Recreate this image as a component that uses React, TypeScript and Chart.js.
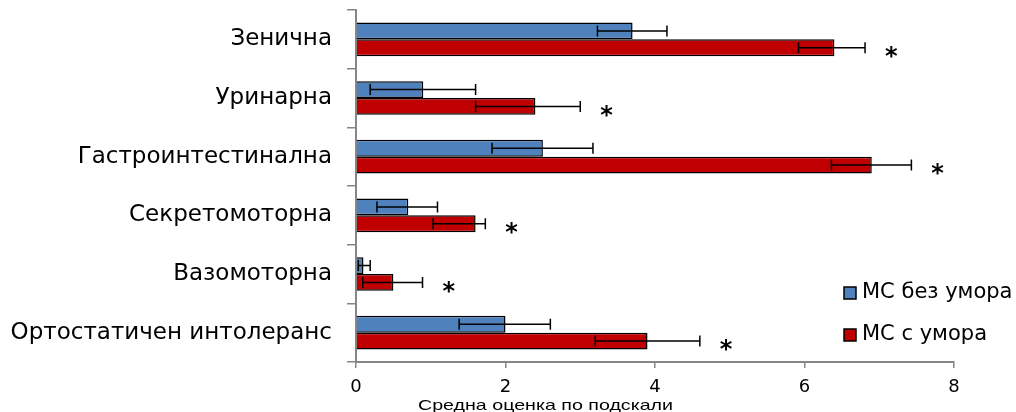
import React, { useEffect, useRef } from "react";
import { Chart, registerables } from "chart.js";

Chart.register(...registerables);

// Subscales of the autonomic symptom questionnaire
const categories = [
  "Зенична",
  "Уринарна",
  "Гастроинтестинална",
  "Секретомоторна",
  "Вазомоторна",
  "Ортостатичен интолеранс",
];

const seriesLabels = ["МС без умора", "МС с умора"];

// Mean subscale scores
const noFatigueMeans = [3.7, 0.9, 2.5, 0.7, 0.1, 2.0];
const fatigueMeans = [6.4, 2.4, 6.9, 1.6, 0.5, 3.9];

// Error bar extents below / above the mean
const noFatigueErrLow = [0.47, 0.71, 0.68, 0.42, 0.07, 0.62];
const noFatigueErrHigh = [0.46, 0.7, 0.67, 0.39, 0.09, 0.6];
const fatigueErrLow = [0.48, 0.8, 0.54, 0.57, 0.41, 0.7];
const fatigueErrHigh = [0.41, 0.6, 0.53, 0.13, 0.39, 0.7];

// Significant difference between groups (marked with *)
const significant = [true, true, true, true, true, true];

const xTicks = [0, 2, 4, 6, 8];
const xTitle = "Средна оценка по подскали";

const BLUE = "#4F81BD";
const RED = "#C00000";

const errorBarsPlugin = {
  id: "errorBars",
  afterDatasetsDraw(chart: any) {
    const ctx = chart.ctx;
    const xs = chart.scales.x;
    const lows = [noFatigueErrLow, fatigueErrLow];
    const highs = [noFatigueErrHigh, fatigueErrHigh];
    ctx.save();
    ctx.strokeStyle = "#000";
    ctx.lineWidth = 1.5;
    chart.data.datasets.forEach((ds: any, di: number) => {
      const meta = chart.getDatasetMeta(di);
      meta.data.forEach((bar: any, i: number) => {
        const v = ds.data[i];
        const x1 = xs.getPixelForValue(v - lows[di][i]);
        const x2 = xs.getPixelForValue(v + highs[di][i]);
        const y = bar.y;
        ctx.beginPath();
        ctx.moveTo(x1, y);
        ctx.lineTo(x2, y);
        ctx.moveTo(x1, y - 5.5);
        ctx.lineTo(x1, y + 5.5);
        ctx.moveTo(x2, y - 5.5);
        ctx.lineTo(x2, y + 5.5);
        ctx.stroke();
      });
    });
    // significance stars, placed just past the fatigue-group error bar
    const meta = chart.getDatasetMeta(1);
    ctx.fillStyle = "#000";
    ctx.font = "bold 24px 'DejaVu Sans'";
    ctx.textAlign = "center";
    ctx.textBaseline = "middle";
    meta.data.forEach((bar: any, i: number) => {
      if (!significant[i]) return;
      const x = xs.getPixelForValue(fatigueMeans[i] + fatigueErrHigh[i] + 0.35);
      ctx.fillText("*", x, bar.y + 10);
    });
    ctx.restore();
  },
};

const legendTitlePlugin = {
  id: "legendTitle",
  afterDraw(chart: any) {
    const ctx = chart.ctx;
    ctx.save();
    // legend
    const colors = [BLUE, RED];
    ctx.font = "21px 'DejaVu Sans'";
    ctx.textAlign = "left";
    ctx.textBaseline = "middle";
    seriesLabels.forEach((lbl, i) => {
      const cy = 293 + i * 42;
      ctx.fillStyle = colors[i];
      ctx.fillRect(844, cy - 6, 12, 12);
      ctx.strokeStyle = "#000";
      ctx.lineWidth = 1.5;
      ctx.strokeRect(844, cy - 6, 12, 12);
      ctx.fillStyle = "#000";
      ctx.fillText(lbl, 862, cy);
    });
    // x axis title, slightly widened
    ctx.font = "15px 'Liberation Sans'";
    ctx.textAlign = "left";
    ctx.textBaseline = "alphabetic";
    ctx.fillStyle = "#000";
    const w = ctx.measureText(xTitle).width;
    const target = 255;
    ctx.translate(418, 409.5);
    ctx.scale(target / w, 1);
    ctx.fillText(xTitle, 0, 0);
    ctx.restore();
  },
};

export default function App() {
  const canvasRef = useRef<HTMLCanvasElement | null>(null);

  useEffect(() => {
    if (!canvasRef.current) return;
    const chart = new Chart(canvasRef.current, {
      type: "bar",
      data: {
        labels: categories,
        datasets: [
          {
            label: seriesLabels[0],
            data: noFatigueMeans,
            backgroundColor: BLUE,
            borderColor: "#000",
            borderWidth: 1.5,
            categoryPercentage: 0.575,
            barPercentage: 1,
          },
          {
            label: seriesLabels[1],
            data: fatigueMeans,
            backgroundColor: RED,
            borderColor: "#000",
            borderWidth: 1.5,
            categoryPercentage: 0.575,
            barPercentage: 1,
          },
        ],
      },
      options: {
        indexAxis: "y",
        animation: false,
        responsive: true,
        maintainAspectRatio: false,
        layout: { padding: { top: 10, right: 62, left: 0, bottom: 0 } },
        plugins: {
          legend: { display: false },
          tooltip: { enabled: false },
        },
        scales: {
          x: {
            min: 0,
            max: 8,
            afterBuildTicks: (s: any) => {
              s.ticks = xTicks.map((v) => ({ value: v }));
            },
            ticks: {
              color: "#000",
              font: { family: "'DejaVu Sans'", size: 18 },
              padding: 9,
            },
            grid: {
              drawOnChartArea: false,
              drawTicks: true,
              tickLength: 6,
              color: "#868686",
              lineWidth: 1.5,
            },
            border: { color: "#868686", width: 2 },
            afterFit: (s: any) => {
              s.height = 50;
              s.paddingLeft = 0;
              s.paddingRight = 0;
            },
          },
          y: {
            grid: {
              offset: true,
              drawOnChartArea: false,
              drawTicks: true,
              tickLength: 9,
              color: "#868686",
              lineWidth: 1.5,
            },
            border: { color: "#868686", width: 2 },
            ticks: {
              color: "#000",
              font: { family: "'DejaVu Sans'", size: 23 },
              padding: 15,
            },
            afterFit: (s: any) => {
              s.width = 356;
              s.paddingTop = 0;
              s.paddingBottom = 0;
            },
          },
        },
      },
      plugins: [errorBarsPlugin, legendTitlePlugin],
    });
    return () => chart.destroy();
  }, []);

  return (
    <div style={{ position: "absolute", left: 0, top: 0, width: 1016, height: 412, background: "#fff" }}>
      <canvas ref={canvasRef} />
    </div>
  );
}
